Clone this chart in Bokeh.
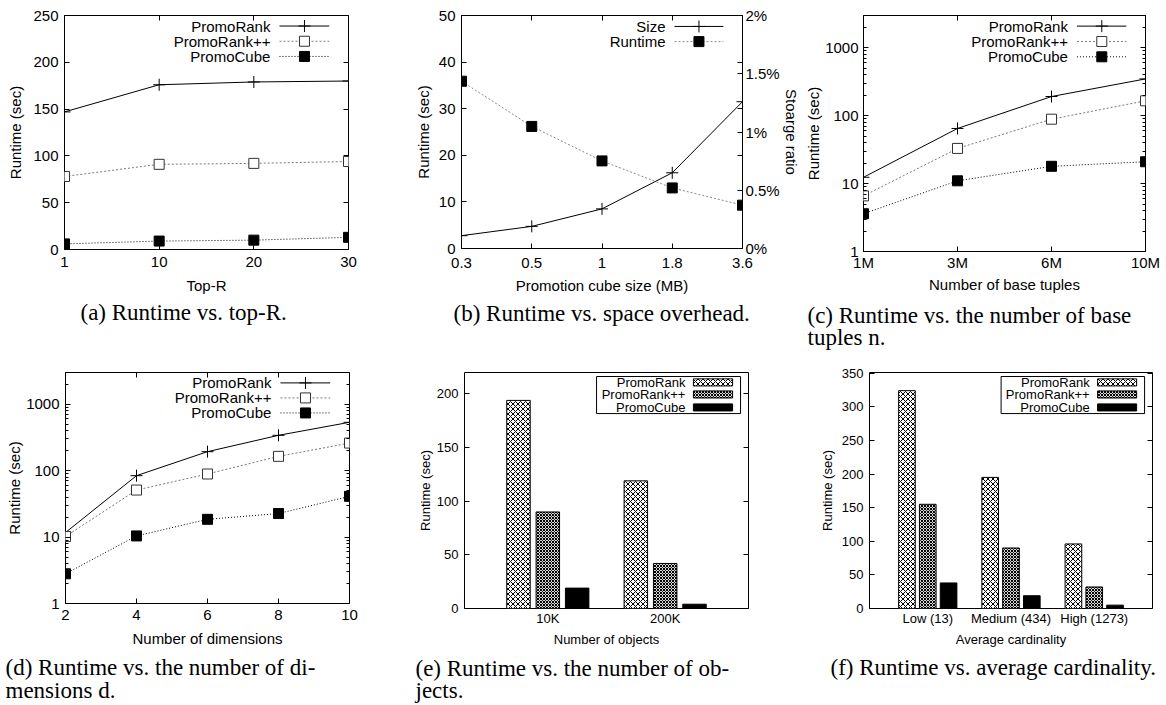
from bokeh.plotting import figure
from bokeh.layouts import row, column
from bokeh.models import (Range1d, LinearAxis, LogAxis, FixedTicker, SingleIntervalTicker,
                          CustomJSTickFormatter, Title, LinearScale)
from bokeh.core.properties import value
from bokeh.embed import file_html
from bokeh.resources import INLINE

SANS = "Liberation Sans"
SERIF = "Liberation Serif"

# ---------------- data ----------------
# (a) Runtime vs. top-R
topr_labels = ["1", "10", "20", "30"]
a_promorank = [147, 176, 179, 180]
a_promorankpp = [78, 91, 92, 94]
a_promocube = [6, 9, 10, 13]

# (b) Runtime vs. space overhead
cube_labels = ["0.3", "0.5", "1", "1.8", "3.6"]
b_size_pct = [0.11, 0.19, 0.34, 0.65, 1.26]
b_runtime = [35.9, 26.2, 18.8, 13.0, 9.3]

# (c) Runtime vs. number of base tuples
tuple_labels = ["1M", "3M", "6M", "10M"]
c_promorank = [12.4, 65, 192, 349]
c_promorankpp = [6.6, 33, 89, 166]
c_promocube = [3.6, 11, 18, 21]

# (d) Runtime vs. number of dimensions
dims = [2, 4, 6, 8, 10]
d_promorank = [11.7, 84, 193, 340, 534]
d_promorankpp = [10.2, 51, 89, 164, 260]
d_promocube = [2.8, 10.4, 18.5, 22.6, 41]

# (e) Runtime vs. number of objects
obj_labels = ["10K", "200K"]
e_promorank = [194, 119]
e_promorankpp = [90, 42]
e_promocube = [19, 4]

# (f) Runtime vs. average cardinality
card_labels = ["Low (13)", "Medium (434)", "High (1273)"]
f_promorank = [324, 195, 96]
f_promorankpp = [155, 90, 32]
f_promocube = [38, 19, 5]

series_names = ["PromoRank", "PromoRank++", "PromoCube"]

LOG_MAJOR = [1, 10, 100, 1000]
LOG_MINOR = [k * m for m in (1, 10, 100) for k in range(2, 10)] + [2000, 3000]


# ---------------- helpers ----------------
def make_fig(fw, fh, left, right, top, bottom, x_range, y_range, y_type="linear"):
    p = figure(frame_width=fw, frame_height=fh, min_border_left=left, min_border_right=right,
               min_border_top=top, min_border_bottom=bottom, x_range=x_range, y_range=y_range,
               y_axis_type=y_type, toolbar_location=None, output_backend="svg", title=None)
    p.outline_line_color = "black"
    p.outline_line_width = 1
    p.outline_line_alpha = 1
    p.xgrid.visible = False
    p.ygrid.visible = False
    p.background_fill_color = "white"
    p.border_fill_color = "white"
    p.extra_x_ranges = {"leg": Range1d(0, 1)}
    p.extra_y_ranges = {"leg": Range1d(0, 1)}
    p.extra_x_scales = {"leg": LinearScale()}
    p.extra_y_scales = {"leg": LinearScale()}
    return p


def style_axis(ax, fs, tick_in=5, minor_in=0, lab_standoff=6, ax_standoff=4):
    ax.axis_line_color = None
    ax.major_tick_in = tick_in
    ax.major_tick_out = 0
    ax.minor_tick_in = minor_in
    ax.minor_tick_out = 0
    ax.major_tick_line_color = "black" if tick_in else None
    ax.minor_tick_line_color = "black" if minor_in else None
    ax.major_label_text_font = SANS
    ax.major_label_text_font_size = fs
    ax.major_label_text_color = "black"
    ax.axis_label_text_font = SANS
    ax.axis_label_text_font_size = fs
    ax.axis_label_text_font_style = "normal"
    ax.axis_label_text_color = "black"
    ax.major_label_standoff = lab_standoff
    ax.axis_label_standoff = ax_standoff


def mirror(p, side, ticker, log=False, tick_in=5, minor_in=0):
    cls = LogAxis if log else LinearAxis
    ax = cls(ticker=ticker)
    style_axis(ax, "0px", tick_in=tick_in, minor_in=minor_in, lab_standoff=0, ax_standoff=0)
    ax.major_label_text_alpha = 0
    p.add_layout(ax, side)
    return ax


def index_formatter(labels):
    return CustomJSTickFormatter(args=dict(labels=labels),
                                 code="const i = Math.round(tick); return (i >= 0 && i < labels.length) ? labels[i] : '';")


LINE_STYLES = [
    dict(line=dict(line_color="black", line_width=1),
         mk=dict(marker="cross", size=12, line_color="black", line_width=1)),
    dict(line=dict(line_color="#7a7a7a", line_width=1, line_dash="2 2"),
         mk=dict(marker="square", size=10, fill_color="white", line_color="#333333", line_width=1)),
    dict(line=dict(line_color="black", line_width=1, line_dash="1 2"),
         mk=dict(marker="square", size=10, fill_color="black", line_color="black", line_width=1)),
]

BAR_STYLES = [
    dict(fill_color="white", hatch_pattern="diagonal_cross", hatch_scale=5, hatch_color="black",
         hatch_weight=1, line_color="black", line_width=1),
    dict(fill_color="#d8d8d8", hatch_pattern="diagonal_cross", hatch_scale=3, hatch_color="black",
         hatch_weight=1, line_color="black", line_width=1),
    dict(fill_color="black", line_color="black", line_width=1),
]


def draw_series(p, xs, ys, style, **kw):
    p.line(xs, ys, **style["line"], **kw)
    p.scatter(xs, ys, **style["mk"], **kw)


def line_legend(p, labels, styles, fs="15px"):
    rows_y = [0.955, 0.89, 0.825]
    for lab, st, y in zip(labels, styles, rows_y):
        p.text(x=[0.725], y=[y], text=[lab], x_range_name="leg", y_range_name="leg",
               text_align="right", text_baseline="middle", text_font=value(SANS),
               text_font_size=fs, text_color="black")
        p.line(x=[0.757, 0.932], y=[y, y], x_range_name="leg", y_range_name="leg", **st["line"])
        p.scatter(x=[0.845], y=[y], x_range_name="leg", y_range_name="leg", **st["mk"])


def bar_legend(p, labels, fs="13px"):
    p.quad(left=[0.465], right=[0.972], bottom=[0.826], top=[0.983], fill_color="white",
           line_color="black", line_width=1, x_range_name="leg", y_range_name="leg")
    rows_y = [0.958, 0.907, 0.852]
    for lab, st, y in zip(labels, BAR_STYLES, rows_y):
        p.text(x=[0.778], y=[y], text=[lab], x_range_name="leg", y_range_name="leg",
               text_align="right", text_baseline="middle", text_font=value(SANS),
               text_font_size=fs, text_color="black")
        p.quad(left=[0.806], right=[0.944], bottom=[y - 0.015], top=[y + 0.015],
               x_range_name="leg", y_range_name="leg", **st)


def draw_bars(p, series):
    for j, vals in enumerate(series):
        xs = [g + (j - 1) * 0.25 for g in range(len(vals))]
        p.vbar(x=xs, top=vals, bottom=0, width=0.2, **BAR_STYLES[j])


def caption(p, text, offset, fs="23px", standoff=8):
    t = Title(text=text, align="left", offset=offset, text_font=SERIF, text_font_size=fs,
              text_font_style="normal", text_color="black", standoff=standoff,
              text_line_height=0.9)
    p.add_layout(t, "below")


FS1 = "15px"
FS2 = "13px"

# ---------------- (a) ----------------
xa = list(range(len(topr_labels)))
pa = make_fig(284, 234, 64, 52, 15, 96, Range1d(0, len(topr_labels) - 1), Range1d(0, 250))
for ys, st in zip([a_promorank, a_promorankpp, a_promocube], LINE_STYLES):
    draw_series(pa, xa, ys, st)
line_legend(pa, series_names, LINE_STYLES)
tk_ax = FixedTicker(ticks=xa)
pa.xaxis[0].ticker = tk_ax
pa.xaxis[0].formatter = index_formatter(topr_labels)
pa.xaxis[0].axis_label = "Top-R"
style_axis(pa.xaxis[0], FS1, lab_standoff=7, ax_standoff=7)
tk_ay = SingleIntervalTicker(interval=50, num_minor_ticks=0)
pa.yaxis[0].ticker = tk_ay
pa.yaxis[0].axis_label = "Runtime (sec)"
style_axis(pa.yaxis[0], FS1, lab_standoff=6, ax_standoff=6)
mirror(pa, "above", tk_ax)
mirror(pa, "right", tk_ay)
caption(pa, "(a) Runtime vs. top-R.", 16, standoff=3)

# ---------------- (b) ----------------
xb = list(range(len(cube_labels)))
pb = make_fig(281, 233, 61, 50, 15, 97, Range1d(0, len(cube_labels) - 1), Range1d(0, 50))
pb.extra_y_ranges = {**pb.extra_y_ranges, "ratio": Range1d(0, 2)}
pb.extra_y_scales = {**pb.extra_y_scales, "ratio": LinearScale()}
size_style = LINE_STYLES[0]
rt_style = dict(line=dict(line_color="#8a8a8a", line_width=1, line_dash="2 2"),
                mk=dict(marker="square", size=10, fill_color="black", line_color="black", line_width=1))
draw_series(pb, xb, b_size_pct, size_style, y_range_name="ratio")
draw_series(pb, xb, b_runtime, rt_style)
rows_b = [0.953, 0.888]
for lab, st, y in zip(["Size", "Runtime"], [size_style, rt_style], rows_b):
    pb.text(x=[0.726], y=[y], text=[lab], x_range_name="leg", y_range_name="leg",
            text_align="right", text_baseline="middle", text_font=value(SANS),
            text_font_size=FS1, text_color="black")
    pb.line(x=[0.758, 0.932], y=[y, y], x_range_name="leg", y_range_name="leg", **st["line"])
    pb.scatter(x=[0.845], y=[y], x_range_name="leg", y_range_name="leg", **st["mk"])
tk_bx = FixedTicker(ticks=xb)
pb.xaxis[0].ticker = tk_bx
pb.xaxis[0].formatter = index_formatter(cube_labels)
pb.xaxis[0].axis_label = "Promotion cube size (MB)"
style_axis(pb.xaxis[0], FS1, lab_standoff=9, ax_standoff=6)
pb.yaxis[0].ticker = SingleIntervalTicker(interval=10, num_minor_ticks=0)
pb.yaxis[0].axis_label = "Runtime (sec)"
style_axis(pb.yaxis[0], FS1, lab_standoff=6, ax_standoff=4)
mirror(pb, "above", tk_bx)
ax_r = LinearAxis(y_range_name="ratio",
                  ticker=FixedTicker(ticks=[0, 0.5, 1, 1.5, 2], minor_ticks=[0.4, 0.8, 1.2, 1.6]),
                  formatter=CustomJSTickFormatter(code="return tick + '%';"),
                  axis_label="Stoarge ratio")
style_axis(ax_r, FS1, tick_in=5, minor_in=5, lab_standoff=3, ax_standoff=0)
pb.add_layout(ax_r, "right")
caption(pb, "(b) Runtime vs. space overhead.", -8, standoff=4)

# ---------------- (c) ----------------
xc = list(range(len(tuple_labels)))
pc = make_fig(282, 236, 45, 20, 12, 96, Range1d(0, len(tuple_labels) - 1), Range1d(1, 3000), y_type="log")
for ys, st in zip([c_promorank, c_promorankpp, c_promocube], LINE_STYLES):
    draw_series(pc, xc, ys, st)
line_legend(pc, series_names, LINE_STYLES)
tk_cx = FixedTicker(ticks=xc)
pc.xaxis[0].ticker = tk_cx
pc.xaxis[0].formatter = index_formatter(tuple_labels)
pc.xaxis[0].axis_label = "Number of base tuples"
style_axis(pc.xaxis[0], FS1, lab_standoff=2, ax_standoff=2)
tk_log = FixedTicker(ticks=LOG_MAJOR, minor_ticks=LOG_MINOR)
log_fmt = CustomJSTickFormatter(code="return tick.toFixed(0);")
pc.yaxis[0].ticker = tk_log
pc.yaxis[0].formatter = log_fmt
pc.yaxis[0].axis_label = "Runtime (sec)"
style_axis(pc.yaxis[0], FS1, tick_in=5, minor_in=3, lab_standoff=5, ax_standoff=0)
mirror(pc, "above", tk_cx)
mirror(pc, "right", tk_log, log=True, tick_in=5, minor_in=3)
caption(pc, "(c) Runtime vs.  the number of base\ntuples n.", -56, standoff=9)

# ---------------- (d) ----------------
pd_ = make_fig(284, 231, 65, 61, 21, 94, Range1d(2, 10), Range1d(1, 3000), y_type="log")
for ys, st in zip([d_promorank, d_promorankpp, d_promocube], LINE_STYLES):
    draw_series(pd_, dims, ys, st)
line_legend(pd_, series_names, LINE_STYLES)
tk_dx = FixedTicker(ticks=dims)
pd_.xaxis[0].ticker = tk_dx
pd_.xaxis[0].axis_label = "Number of dimensions"
style_axis(pd_.xaxis[0], FS1, lab_standoff=6, ax_standoff=7)
pd_.yaxis[0].ticker = tk_log
pd_.yaxis[0].formatter = log_fmt
pd_.yaxis[0].axis_label = "Runtime (sec)"
style_axis(pd_.yaxis[0], FS1, tick_in=5, minor_in=3, lab_standoff=6, ax_standoff=0)
mirror(pd_, "above", tk_dx)
mirror(pd_, "right", tk_log, log=True, tick_in=5, minor_in=3)
caption(pd_, "(d) Runtime vs.  the number of di-\nmensions d.", -60, standoff=6)

# ---------------- (e) ----------------
xe = list(range(len(obj_labels)))
pe = make_fig(284, 236, 54, 52, 21, 89, Range1d(-0.71, len(obj_labels) - 0.29), Range1d(0, 220))
draw_bars(pe, [e_promorank, e_promorankpp, e_promocube])
bar_legend(pe, series_names, FS2)
pe.xaxis[0].ticker = FixedTicker(ticks=xe)
pe.xaxis[0].formatter = index_formatter(obj_labels)
pe.xaxis[0].axis_label = "Number of objects"
style_axis(pe.xaxis[0], FS2, tick_in=0, lab_standoff=2, ax_standoff=3)
tk_ey = SingleIntervalTicker(interval=50, num_minor_ticks=0)
pe.yaxis[0].ticker = tk_ey
pe.yaxis[0].axis_label = "Runtime (sec)"
style_axis(pe.yaxis[0], FS2, lab_standoff=6, ax_standoff=1)
mirror(pe, "right", tk_ey)
caption(pe, "(e) Runtime vs.  the number of ob-\njects.", -49, standoff=7)

# ---------------- (f) ----------------
xf = list(range(len(card_labels)))
pf = make_fig(283, 236, 69, 14, 21, 89, Range1d(-0.7, len(card_labels) - 0.3), Range1d(0, 351))
draw_bars(pf, [f_promorank, f_promorankpp, f_promocube])
bar_legend(pf, series_names, FS2)
pf.xaxis[0].ticker = FixedTicker(ticks=xf)
pf.xaxis[0].formatter = index_formatter(card_labels)
pf.xaxis[0].axis_label = "Average cardinality"
style_axis(pf.xaxis[0], FS2, tick_in=0, lab_standoff=2, ax_standoff=3)
tk_fy = SingleIntervalTicker(interval=50, num_minor_ticks=0)
pf.yaxis[0].ticker = tk_fy
pf.yaxis[0].axis_label = "Runtime (sec)"
style_axis(pf.yaxis[0], FS2, lab_standoff=6, ax_standoff=4)
mirror(pf, "right", tk_fy)
caption(pf, "(f) Runtime vs. average cardinality.", -39, standoff=7)

layout = column(row(pa, pb, pc), row(pd_, pe, pf))
open("out.html", "w").write(file_html(layout, INLINE))
